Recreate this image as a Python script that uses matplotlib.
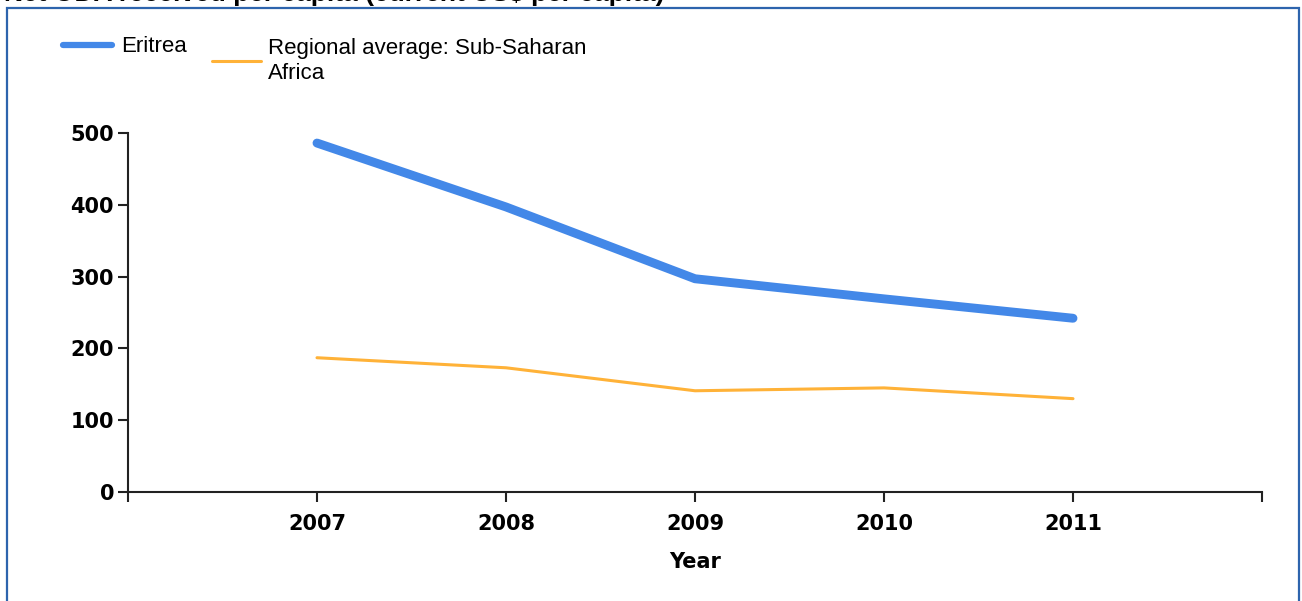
import matplotlib.pyplot as plt
from matplotlib.patches import Rectangle
from matplotlib import font_manager

# Dados
anos = [2007, 2008, 2009, 2010, 2011]
eritrea = [486, 397, 297, 269, 242]
regional = [187, 173, 141, 145, 130]
rotulos_x = ["", "2007", "2008", "2009", "2010", "2011", ""]

# Fonte estreita para a legenda, se existir
nomes = {f.name for f in font_manager.fontManager.ttflist}
fonte_leg = "Liberation Sans Narrow" if "Liberation Sans Narrow" in nomes else "Liberation Sans"

fig = plt.figure(figsize=(13.02, 6.01), dpi=100)
ax = fig.add_axes([128 / 1302, 1 - 492 / 601, (1262 - 128) / 1302, (492 - 133) / 601])

l1, = ax.plot(anos, eritrea, color="#4388e8", linewidth=6.4, solid_capstyle="round",
              label="Eritrea")
l2, = ax.plot(anos, regional, color="#ffb238", linewidth=2.2, solid_capstyle="round",
              label="Regional average: Sub-Saharan\nAfrica")

ax.set_xlim(2006, 2012)
ax.set_ylim(0, 500)
ax.set_xticks(range(2006, 2013))
ax.set_xticklabels(rotulos_x)
ax.set_yticks([0, 100, 200, 300, 400, 500])
ax.tick_params(axis="both", labelsize=15, width=1.5, length=7, color="#222222", pad=3)
for lbl in ax.get_xticklabels() + ax.get_yticklabels():
    lbl.set_fontweight("bold")
ax.tick_params(axis="x", pad=9)
ax.set_xlabel("Year", fontsize=15, fontweight="bold", labelpad=13)

for lado in ["top", "right"]:
    ax.spines[lado].set_visible(False)
for lado in ["left", "bottom"]:
    ax.spines[lado].set_linewidth(1.5)
    ax.spines[lado].set_color("#222222")

leg1 = fig.legend(handles=[l1], loc="center left", bbox_to_anchor=(63 / 1302, 1 - 47 / 601),
                  frameon=False, prop={"family": fonte_leg, "size": 16},
                  handlelength=2.2, handletextpad=0.4, borderpad=0, borderaxespad=0)
leg2 = fig.legend(handles=[l2], loc="center left", bbox_to_anchor=(212 / 1302, 1 - 61 / 601),
                  frameon=False, prop={"family": fonte_leg, "size": 16},
                  handlelength=2.2, handletextpad=0.3, borderpad=0, borderaxespad=0)
leg1.get_lines()[0].set_linewidth(4.5)
leg2.get_lines()[0].set_linewidth(2.2)
for t in leg2.get_texts():
    t.set_linespacing(1.2)

# Título cortado no topo
fig.text(4 / 1302, 1 - 1 / 601, "Net ODA received per capita (current US$ per capita)",
         fontsize=19, fontweight="bold", va="baseline", ha="left", family="Liberation Sans")

# Moldura azul
fig.patches.append(Rectangle((7 / 1302, -0.05), 1292 / 1302, 1.05 - 8 / 601,
                             transform=fig.transFigure, fill=False,
                             edgecolor="#2d64ad", linewidth=1.6))

fig.savefig("out.png", dpi=100)
